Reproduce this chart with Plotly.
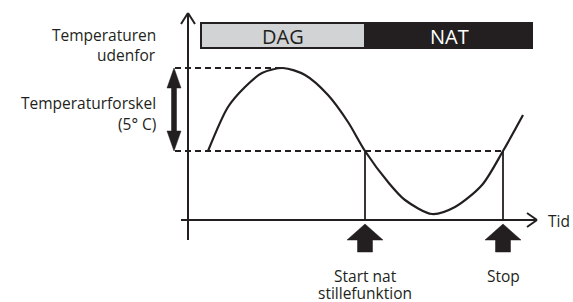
import plotly.graph_objects as go

# ---- data (diagram units: x = time, y = temperature, screen-like scale) ----
curve_time = [208, 228, 245, 262, 283, 305, 328, 348, 365, 388, 405, 432, 455, 482, 503, 523]
curve_temp = [151, 107, 87, 73, 68, 75, 95, 122, 151, 182, 200, 214, 207, 185, 151, 115]

level_high = 68      # outdoor max temperature
level_switch = 151   # max - 5 °C
event_times = [365, 503]            # start night silence, stop
period_labels = ["DAG", "NAT"]
period_bounds = [201, 365, 532]

INK = "#231f20"
FONT = "Open Sans"

fig = go.Figure()

fig.add_trace(go.Scatter(x=curve_time, y=curve_temp, mode="lines",
                         line=dict(color=INK, width=2.2, shape="spline", smoothing=0.8),
                         hoverinfo="skip", showlegend=False))

shapes = []
def line(x0, y0, x1, y1, w=2, dash=None):
    d = dict(type="line", x0=x0, y0=y0, x1=x1, y1=y1, xref="x", yref="y",
             line=dict(color=INK, width=w))
    if dash:
        d["line"]["dash"] = dash
    shapes.append(d)

def poly(pts):
    p = "M " + " L ".join(f"{x},{y}" for x, y in pts) + " Z"
    shapes.append(dict(type="path", path=p, xref="x", yref="y",
                       fillcolor=INK, line=dict(color=INK, width=0.5)))

# axes
ax_x, ax_y = 188, 220
line(ax_x, 240, ax_x, 13)
line(ax_x - 7, 24, ax_x, 13); line(ax_x + 7, 24, ax_x, 13)
line(181, ax_y, 537, ax_y)
line(527, ax_y - 7, 537, ax_y); line(527, ax_y + 7, 537, ax_y)

# dashed levels
line(175, level_high, curve_time[curve_temp.index(min(curve_temp))], level_high, dash="6px,4px")
line(175, level_switch, event_times[1], level_switch, dash="6px,4px")

# event verticals and thick up-arrows
for t in event_times:
    line(t, level_switch, t, ax_y, w=1.8)
    tip = 224
    poly([(t, tip), (t + 18, tip + 16), (t + 7.5, tip + 16), (t + 7.5, tip + 28),
          (t - 7.5, tip + 28), (t - 7.5, tip + 16), (t - 18, tip + 16)])

# double arrow for temperature difference
dx = 174
poly([(dx, level_high), (dx + 7, level_high + 20), (dx + 2.5, level_high + 20),
      (dx + 2.5, level_switch - 20), (dx + 7, level_switch - 20), (dx, level_switch),
      (dx - 7, level_switch - 20), (dx - 2.5, level_switch - 20), (dx - 2.5, level_high + 20),
      (dx - 7, level_high + 20)])

# day / night bar
fills = ["#d1d3d4", INK]
for i in range(2):
    shapes.append(dict(type="rect", x0=period_bounds[i], x1=period_bounds[i + 1], y0=23, y1=48,
                       xref="x", yref="y", fillcolor=fills[i], line=dict(color=INK, width=2)))

annotations = []
def text(x, y, s, size=15.5, color=INK, xanchor="center"):
    annotations.append(dict(x=x, y=y, text=s, showarrow=False, xref="x", yref="y",
                            xanchor=xanchor, yanchor="middle",
                            font=dict(family=FONT, size=size, color=color)))

text(283, 36, period_labels[0], size=20)
text(449, 36, period_labels[1], size=20, color="white")
text(158, 35, "Temperaturen", xanchor="right")
text(158, 55, "udenfor", xanchor="right")
text(158, 103, "Temperaturforskel", xanchor="right")
text(158, 124, "(5° C)", xanchor="right")
text(event_times[0], 276, "Start nat")
text(event_times[0], 293, "stillefunktion")
text(event_times[1], 276, "Stop")
text(546, 221, "Tid", xanchor="left")

fig.update_layout(width=573, height=302, margin=dict(l=0, r=0, t=0, b=0),
                  paper_bgcolor="white", plot_bgcolor="white",
                  xaxis=dict(range=[0, 573], visible=False, fixedrange=True),
                  yaxis=dict(range=[302, 0], visible=False, fixedrange=True),
                  shapes=shapes, annotations=annotations, showlegend=False)

fig.write_html("out.html", config={"displayModeBar": False},
               post_script="document.body.style.margin='0';document.body.style.overflow='hidden';")
